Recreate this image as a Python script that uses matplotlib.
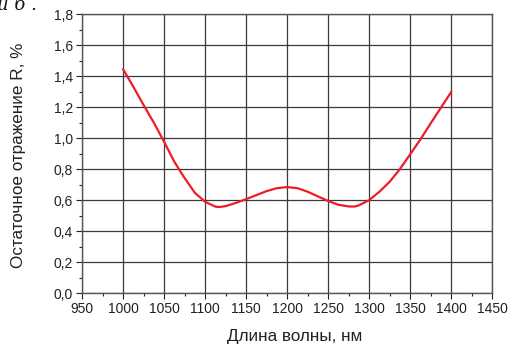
import numpy as np
import matplotlib.pyplot as plt
from matplotlib.ticker import MultipleLocator

plt.rcParams['font.family'] = ['Liberation Sans', 'DejaVu Sans']

# длина волны, нм / остаточное отражение, %
wl = [1000, 1012.5, 1025, 1037.5, 1050, 1062.5, 1075, 1087.5, 1100, 1112.5,
      1117, 1125, 1137.5, 1150, 1162.5, 1175, 1187.5, 1200, 1212.5, 1225,
      1237.5, 1250, 1262.5, 1275, 1282, 1287.5, 1300, 1312.5, 1325, 1337.5,
      1350, 1362.5, 1375, 1387.5, 1400]
R = [1.444, 1.331, 1.213, 1.099, 0.976, 0.847, 0.742, 0.647, 0.589, 0.558,
     0.555, 0.561, 0.582, 0.606, 0.632, 0.658, 0.677, 0.684, 0.677, 0.654,
     0.624, 0.594, 0.570, 0.559, 0.558, 0.566, 0.600, 0.654, 0.718, 0.800,
     0.895, 0.991, 1.095, 1.196, 1.297]

xticks = [950, 1000, 1050, 1100, 1150, 1200, 1250, 1300, 1350, 1400, 1450]
yticks = [0.0, 0.2, 0.4, 0.6, 0.8, 1.0, 1.2, 1.4, 1.6, 1.8]

fig = plt.figure(figsize=(5.1, 3.44), dpi=100)
ax = fig.add_axes([0.161, 0.148, 0.804, 0.811])

ax.plot(wl, R, color="#ee1c25", lw=1.6, zorder=3, solid_joinstyle="round")

ax.set_xlim(950, 1450)
ax.set_ylim(0, 1.8)
ax.set_xticks(xticks)
ax.set_yticks(yticks)
ax.set_yticklabels([f"{v:.1f}".replace(".", ",") for v in yticks])
ax.xaxis.set_minor_locator(MultipleLocator(25))
ax.yaxis.set_minor_locator(MultipleLocator(0.1))
ax.tick_params(which="both", labelsize=10, width=0.8, colors="#222222", labelcolor="#222222")
ax.tick_params(which="major", length=4, direction="out", pad=2.5)
ax.tick_params(which="minor", length=2.5, direction="out")
ax.grid(True, which="major", color="#3a3a3a", lw=0.9)
for s in ax.spines.values():
    s.set_color("#555555")
    s.set_linewidth(1.0)

ax.set_xlabel("Длина волны, нм", fontsize=12.3, color="#222222", va="center")
ax.set_ylabel("Остаточное отражение R, %", fontsize=12.3, color="#222222", va="center")
ax.xaxis.set_label_coords(0.518, -0.157)
ax.yaxis.set_label_coords(-0.156, 0.495)

fig.text(-0.005, 0.985, "и б .", fontsize=13, style="italic", family="DejaVu Serif",
         va="center", ha="left", color="#111111")

fig.savefig("out.png", dpi=100)
